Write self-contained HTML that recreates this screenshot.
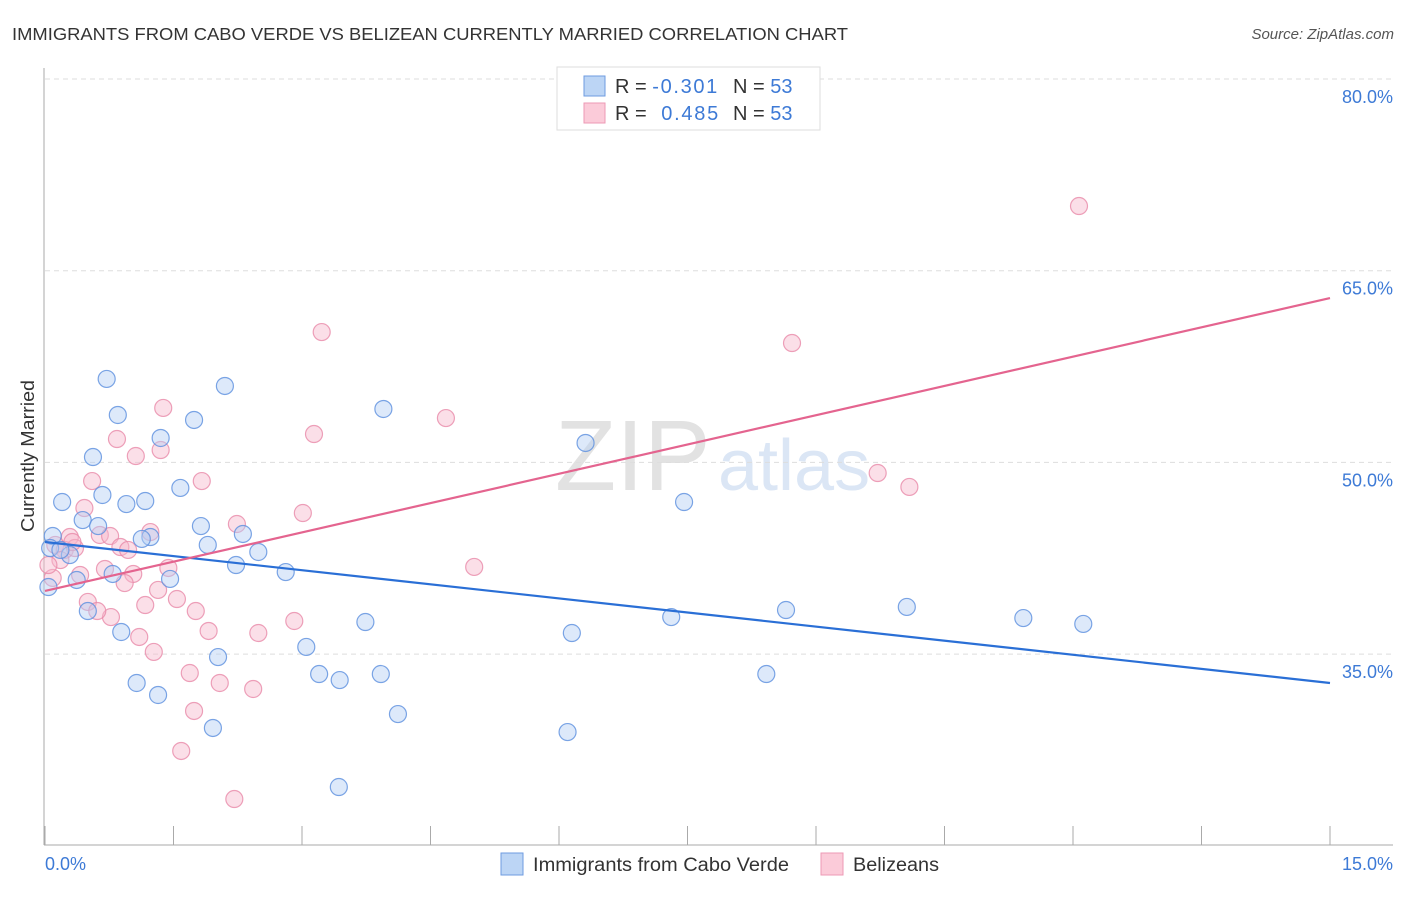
<!DOCTYPE html>
<html><head><meta charset="utf-8"><style>
body{margin:0;background:#fff;font-family:"Liberation Sans",sans-serif;}
svg text{font-family:"Liberation Sans",sans-serif;}
</style></head><body>
<svg id="chart" width="1406" height="892" xmlns="http://www.w3.org/2000/svg">
<text x="12" y="40" font-size="17.5" fill="#333" textLength="836" lengthAdjust="spacingAndGlyphs">IMMIGRANTS FROM CABO VERDE VS BELIZEAN CURRENTLY MARRIED CORRELATION CHART</text>
<text x="1394" y="39" font-size="15" fill="#555" font-style="italic" text-anchor="end">Source: ZipAtlas.com</text>
<g>
<text x="555" y="490" font-size="100" fill="#e2e2e2" font-family="Liberation Serif, serif">ZIP</text>
<text x="718" y="490" font-size="72" fill="#dbe6f5">atlas</text>
</g>
<g id="grid"></g>
<g id="axes"></g>
<g id="marks"></g>
<text transform="translate(34,456) rotate(-90)" font-size="18" fill="#333" text-anchor="middle" textLength="152" lengthAdjust="spacingAndGlyphs">Currently Married</text>
<g>
<rect x="557" y="67" width="263" height="63" fill="#fff" stroke="#ddd"/>
<rect x="584" y="76" width="21" height="20" fill="#bcd5f5" stroke="#6e9be0"/>
<rect x="584" y="103" width="21" height="20" fill="#fbcbd9" stroke="#ec9ab5"/>
<text x="615" y="93" font-size="20" fill="#333">R = <tspan fill="#3d7ad6" textLength="65">-0.301</tspan></text>
<text x="733" y="93" font-size="20" fill="#333">N = <tspan fill="#3d7ad6">53</tspan></text>
<text x="615" y="120" font-size="20" fill="#333">R = <tspan fill="#3d7ad6" dx="9" textLength="57">0.485</tspan></text>
<text x="733" y="120" font-size="20" fill="#333">N = <tspan fill="#3d7ad6">53</tspan></text>
</g>
<g>
<rect x="501" y="853" width="22" height="22" fill="#bcd5f5" stroke="#6e9be0"/>
<text x="533" y="871" font-size="19" fill="#333" textLength="256" lengthAdjust="spacingAndGlyphs">Immigrants from Cabo Verde</text>
<rect x="821" y="853" width="22" height="22" fill="#fbcbd9" stroke="#ec9ab5"/>
<text x="853" y="871" font-size="19" fill="#333" textLength="86" lengthAdjust="spacingAndGlyphs">Belizeans</text>
</g>
</svg>
<script>
const yTicks=[80,65,50,35];
const yTickLabels=["80.0%","65.0%","50.0%","35.0%"];
const xTickCount=11;
const xLabels=["0.0%","15.0%"];
const blueX=[0.72,2.10,0.85,1.35,1.74,3.95,0.56,6.31,1.58,0.67,0.20,0.95,1.17,7.46,0.44,0.62,1.82,2.31,1.23,1.13,0.09,1.90,2.49,0.29,0.06,0.18,2.23,2.81,0.79,1.46,0.37,0.04,0.50,0.89,3.74,6.15,7.31,8.65,10.06,11.42,12.12,3.05,2.02,3.20,3.92,8.42,1.07,3.44,1.32,4.12,1.96,6.10,3.43];
const blueY=[56.53,55.98,53.71,51.91,53.32,54.18,50.42,51.52,48.00,47.45,46.90,46.74,46.98,46.90,45.49,45.02,45.02,44.40,44.16,44.01,44.24,43.54,42.99,42.75,43.30,43.15,41.97,41.42,41.27,40.88,40.80,40.25,38.37,36.73,37.51,36.65,37.90,38.45,38.69,37.82,37.36,35.56,34.77,33.44,33.44,33.44,32.74,32.97,31.80,30.31,29.22,28.90,24.60];
const pinkX=[12.07,3.23,8.72,1.38,4.68,3.14,0.84,1.35,1.06,9.72,10.09,1.83,0.55,0.46,3.01,2.24,1.23,0.64,0.29,0.76,0.12,0.23,0.88,0.97,0.35,1.44,0.70,1.03,0.41,0.93,5.01,0.09,1.32,0.50,1.76,1.17,1.54,2.91,0.77,0.61,1.91,2.49,1.10,1.27,1.69,2.04,2.43,1.74,1.59,2.21,0.18,0.04,0.32];
const pinkY=[70.06,60.20,59.34,54.26,53.47,52.22,51.83,50.97,50.50,49.17,48.08,48.54,48.54,46.43,46.04,45.18,44.55,44.32,44.16,44.24,43.54,43.15,43.38,43.15,43.30,41.74,41.66,41.27,41.19,40.56,41.82,40.96,40.02,39.08,38.37,38.84,39.31,37.59,37.90,38.37,36.81,36.65,36.34,35.17,33.52,32.74,32.27,30.55,27.42,23.66,42.36,41.97,43.77];
const blueTrend=[43.77,32.74];
const pinkTrend=[39.94,62.86];
const trendX=[0,15];

const NS="http://www.w3.org/2000/svg";
const X0=45,X1=1330,Y80=79,PXV=12.78;
function sx(v){return X0+(X1-X0)*v/15;}
function sy(v){return Y80+(80-v)*PXV;}
function mk(tag,attrs,parent){const e=document.createElementNS(NS,tag);for(const k in attrs)e.setAttribute(k,attrs[k]);parent.appendChild(e);return e;}
const grid=document.getElementById('grid'),axes=document.getElementById('axes'),marks=document.getElementById('marks');
yTicks.forEach((t,i)=>{
  const l=mk('line',{x1:45,x2:1393,y1:sy(t),y2:sy(t),stroke:'#ddd','stroke-dasharray':'5,4'},grid);
  
  
  const tx=mk('text',{x:1393,y:sy(t)+24,'font-size':18,fill:'#3d7ad6','text-anchor':'end'},axes);
  tx.textContent=yTickLabels[i];
  
  
});
const ya=mk('line',{x1:44,x2:44,y1:68,y2:845,stroke:'#aaa'},axes);


const xa=mk('line',{x1:44,x2:1393,y1:845,y2:845,stroke:'#aaa'},axes);


for(let i=0;i<xTickCount;i++){
  const v=15*i/(xTickCount-1);
  const t=mk('line',{x1:sx(v),x2:sx(v),y1:826,y2:845,stroke:'#aaa'},axes);
  
  
}
const xl0=mk('text',{x:45,y:870,'font-size':18,fill:'#3d7ad6'},axes);xl0.textContent=xLabels[0];


const xl1=mk('text',{x:1393,y:870,'font-size':18,fill:'#3d7ad6','text-anchor':'end'},axes);xl1.textContent=xLabels[1];


function pts(xs,ys,fill,stroke,name){
  xs.forEach((x,i)=>{
    const c=mk('circle',{cx:sx(x),cy:sy(ys[i]),r:8.5,fill:fill,'fill-opacity':0.45,stroke:stroke,'stroke-opacity':0.8,'stroke-width':1.2},marks);
    
    
  });
}
pts(pinkX,pinkY,'#f7b9cc','#e88aa9','belizean-point');
pts(blueX,blueY,'#b3cff3','#5b8fdf','cabo-verde-point');
const bl=mk('line',{x1:sx(trendX[0]),y1:sy(blueTrend[0]),x2:sx(trendX[1]),y2:sy(blueTrend[1]),stroke:'#2a6fd6','stroke-width':2.2},marks);


const pl=mk('line',{x1:sx(trendX[0]),y1:sy(pinkTrend[0]),x2:sx(trendX[1]),y2:sy(pinkTrend[1]),stroke:'#e4648f','stroke-width':2.2},marks);


</script>
</body></html>
